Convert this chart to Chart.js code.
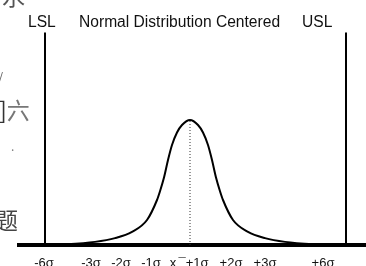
<!DOCTYPE html>
<html>
<head>
<meta charset="utf-8">
<script src="https://cdn.jsdelivr.net/npm/chart.js@4/dist/chart.umd.min.js"></script>
<style>
  html, body { margin: 0; padding: 0; background: #fff; }
  #wrap { position: relative; width: 366px; height: 266px; overflow: hidden; }
  #c { position: absolute; left: 0; top: 0; }
  .t { position: absolute; font-family: "Liberation Sans", Arial, sans-serif; color: #111; white-space: nowrap; line-height: 1; }
  .cjk { position: absolute; font-family: "Noto Sans CJK SC", sans-serif; color: #555; line-height: 1; white-space: nowrap; }
</style>
</head>
<body>
<div id="wrap">
  <canvas id="c" width="366" height="266"></canvas>
  <div class="t" style="left:79px; top:14px; font-size:15.6px;">Normal Distribution Centered</div>
  <div class="t" style="left:28px; top:14px; font-size:15.6px;">LSL</div>
  <div class="t" style="left:302px; top:14px; font-size:15.6px;">USL</div>
  <div class="cjk" style="left:2px; top:-16px; font-size:23px;">水</div>
  <div class="cjk" style="left:-2px; top:70px; font-size:13px; color:#666;">/</div>
  <div class="cjk" style="left:-1px; top:98px; font-size:23px; color:#333;">]<span style="color:#777">六</span></div>
  <div class="cjk" style="left:11px; top:140px; font-size:12px; color:#777;">.</div>
  <div class="cjk" style="left:-5px; top:208px; font-size:23px; color:#444;">题</div>
</div>
<script>
// curve (x in sigma-ish units, y relative to peak)
const curveX = [-6.0, -5.0, -3.8, -3.0, -2.32, -1.72, -1.32, -1.2, -1.04, -0.88, -0.72, -0.52, -0.32, 0,
                0.32, 0.52, 0.72, 0.88, 1.04, 1.2, 1.32, 1.72, 2.32, 3.0, 3.8, 5.0, 6.0];
const curveY = [0, 0.006, 0.025, 0.055, 0.105, 0.2, 0.36, 0.43, 0.54, 0.68, 0.8, 0.9, 0.96, 1.0,
                0.96, 0.9, 0.8, 0.68, 0.54, 0.43, 0.36, 0.2, 0.105, 0.055, 0.025, 0.006, 0];

const lslX = -5.8;
const uslX = 6.24;
const limitTop = 1.70;
const meanX = 0;

const tickPos = [-5.84, -3.96, -2.76, -1.56, -0.68, 0.14, 1.64, 3.0, 5.32];
const tickLabels = ['-6σ', '-3σ', '-2σ', '-1σ', 'x', '¯+1σ', '+2σ', '+3σ', '+6σ'];

const curvePts = curveX.map((x, i) => ({x: x, y: curveY[i]}));

new Chart(document.getElementById('c'), {
  type: 'line',
  data: {
    datasets: [
      {
        data: curvePts,
        borderColor: '#000',
        borderWidth: 2,
        pointRadius: 0,
        cubicInterpolationMode: 'monotone'
      },
      {
        data: [{x: lslX, y: 0}, {x: lslX, y: limitTop}],
        borderColor: '#000', borderWidth: 2, pointRadius: 0
      },
      {
        data: [{x: uslX, y: 0}, {x: uslX, y: limitTop}],
        borderColor: '#000', borderWidth: 2, pointRadius: 0
      },
      {
        data: [{x: meanX, y: 0}, {x: meanX, y: 1.0}],
        borderColor: '#333', borderWidth: 1, borderDash: [1, 2], pointRadius: 0
      }
    ]
  },
  options: {
    responsive: false,
    animation: false,
    layout: { padding: { left: 19, right: 0, top: 0, bottom: 0 } },
    plugins: { legend: { display: false }, tooltip: { enabled: false } },
    scales: {
      x: {
        type: 'linear',
        min: -6.84,
        max: 7.04,
        afterBuildTicks: (s) => { s.ticks = tickPos.map(v => ({value: v})); },
        afterFit: (s) => { s.height = 21; },
        grid: { display: false, drawTicks: false },
        border: { display: true, color: '#000', width: 4 },
        ticks: {
          autoSkip: false,
          maxRotation: 0,
          padding: 11,
          color: '#111',
          font: { family: 'Liberation Sans', size: 13 },
          callback: (v, i) => tickLabels[i]
        }
      },
      y: {
        display: false,
        min: 0,
        max: 1.96
      }
    }
  }
});
</script>
</body>
</html>
